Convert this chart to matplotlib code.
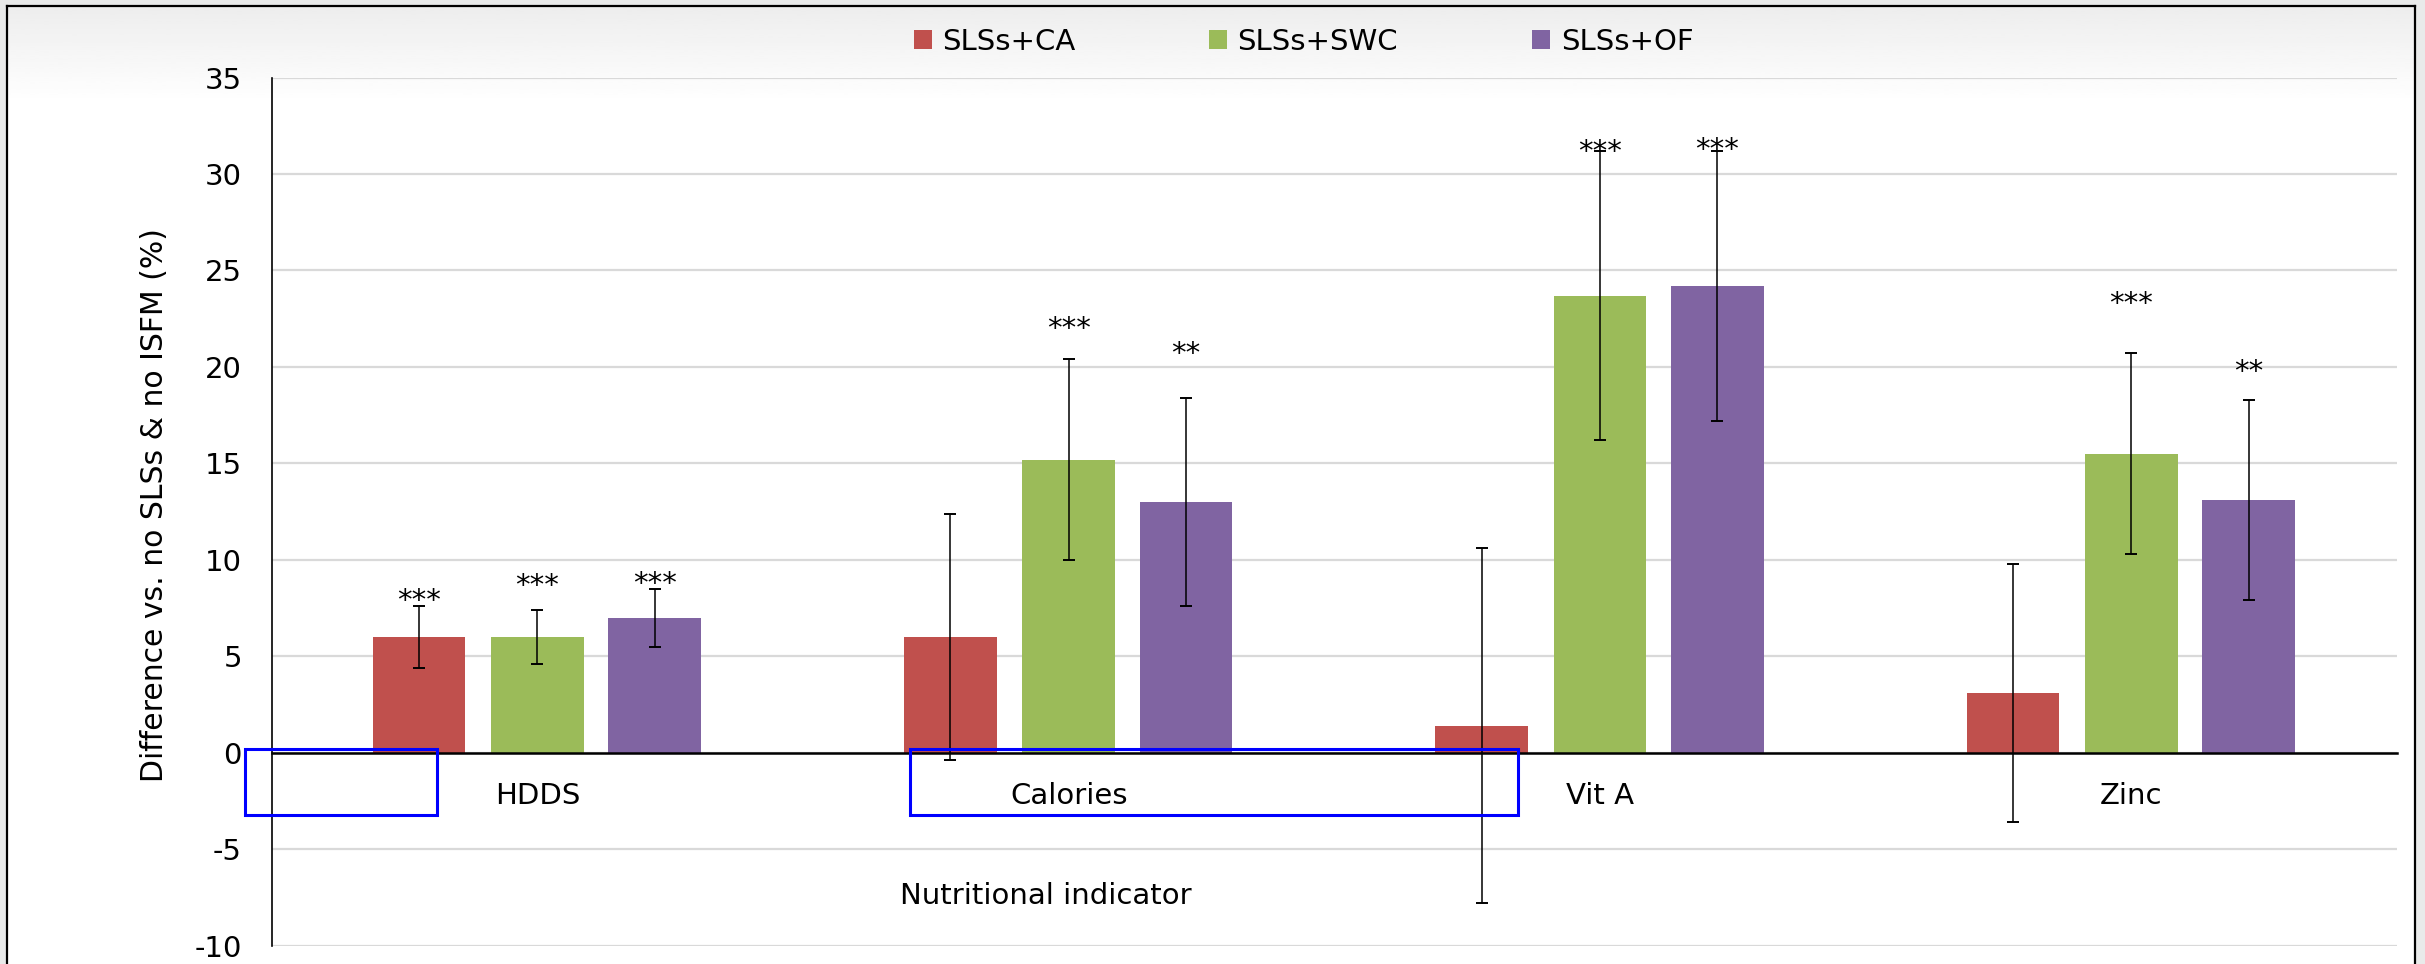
import numpy as np
import matplotlib
matplotlib.use("Agg")
import matplotlib.pyplot as plt
from matplotlib.patches import Patch, Rectangle

plt.rcParams["font.family"] = ["DejaVu Sans"]
plt.rcParams["font.size"] = 21
plt.rcParams["axes.unicode_minus"] = False

categories = ["HDDS", "Calories", "Vit A", "Zinc"]
series = ["SLSs+CA", "SLSs+SWC", "SLSs+OF"]
colors = ["#C0504D", "#9BBB59", "#8064A2"]

ca = [6.0, 6.0, 1.4, 3.1]
ca_err = [1.6, 6.4, 9.2, 6.7]
swc = [6.0, 15.2, 23.7, 15.5]
swc_err = [1.4, 5.2, 7.5, 5.2]
of = [7.0, 13.0, 24.2, 13.1]
of_err = [1.5, 5.4, 7.0, 5.2]

# significance marks and the height (centre of the glyphs) where they sit
ca_sig = ["***", "", "", ""]
ca_sig_y = [8.3, None, None, None]
swc_sig = ["***", "***", "***", "***"]
swc_sig_y = [9.1, 22.4, 31.6, 23.7]
of_sig = ["***", "**", "***", "**"]
of_sig_y = [9.2, 21.1, 31.7, 20.2]

values = [ca, swc, of]
errors = [ca_err, swc_err, of_err]
sigs = [ca_sig, swc_sig, of_sig]
sig_ys = [ca_sig_y, swc_sig_y, of_sig_y]

W, H = 2425, 964
fig = plt.figure(figsize=(W / 100, H / 100), dpi=100)
fig.patch.set_facecolor("#e9eaea")

# chart frame with light gradient at the top (Excel-style chart area)
bg = fig.add_axes([7 / W, 0, 2408 / W, 958 / H], zorder=-5)
rows = np.linspace(0, 1, 400)
shade = np.clip(0.93 + 0.07 * rows / 0.1, 0.93, 1.0)
bg.imshow(np.repeat(shade[:, None], 2, axis=1), cmap="gray", vmin=0, vmax=1,
          aspect="auto", extent=(0, 1, 0, 1), interpolation="bilinear")
bg.set_xticks([])
bg.set_yticks([])
for side in ("top", "left", "right"):
    bg.spines[side].set_linewidth(1.6)
    bg.spines[side].set_color("black")
bg.spines["bottom"].set_visible(False)

ax = fig.add_axes([271.7 / W, 1 - 945.6 / H, (2397 - 271.7) / W, (945.6 - 77.6) / H])
ax.set_facecolor("none")

x = np.arange(len(categories))
offsets = [-0.2226, 0.0, 0.221]
width = 0.1746
for vals, errs, col, off, name in zip(values, errors, colors, offsets, series):
    ax.bar(x + off, vals, width, yerr=errs, color=col, label=name, capsize=4.2,
           error_kw=dict(elinewidth=1.1, capthick=1.4, ecolor="black"))

for sig, sy, off in zip(sigs, sig_ys, offsets):
    for i, (s, yv) in enumerate(zip(sig, sy)):
        if s and yv is not None:
            ax.annotate(s, (x[i] + off, yv), xytext=(0, -12), textcoords="offset points",
                        ha="center", va="baseline", fontsize=21)

ax.set_xlim(-0.5, len(categories) - 0.5)
ax.set_ylim(-10, 35)
ax.set_yticks(np.arange(-10, 36, 5))
ax.set_xticks(x, categories)
ax.grid(axis="y", color="#d9d9d9", linewidth=1.6)
ax.set_axisbelow(True)
ax.spines["top"].set_visible(False)
ax.spines["right"].set_visible(False)
ax.spines["bottom"].set_position(("data", 0))
ax.spines["bottom"].set_linewidth(1.8)
ax.spines["left"].set_linewidth(1.2)
ax.tick_params(axis="y", length=0, pad=21.5)
ax.tick_params(axis="x", length=0, pad=21)

fig.text(155 / W, 1 - 505 / H, "Difference vs. no SLSs & no ISFM (%)",
         rotation=90, ha="center", va="center", fontsize=21.5)
fig.text(1046 / W, 1 - 896 / H, "Nutritional indicator", ha="center", va="center", fontsize=21)

handles = [Patch(facecolor=c, label=s) for c, s in zip(colors, series)]
fig.legend(handles=handles, loc="center", bbox_to_anchor=(0.5375, 1 - 42 / H), ncol=3,
           frameon=False, fontsize=21, handlelength=0.62, handleheight=0.62,
           handletextpad=0.35, columnspacing=4.6, borderpad=0, borderaxespad=0)

# blue outline boxes present in the source image
for x0, x1 in [(245, 437), (910, 1518)]:
    fig.add_artist(Rectangle((x0 / W, 1 - 815 / H), (x1 - x0) / W, 66 / H,
                             transform=fig.transFigure, fill=False,
                             edgecolor="#0000ff", linewidth=2.2, zorder=10))

fig.savefig("out.png", dpi=100, facecolor=fig.get_facecolor())
